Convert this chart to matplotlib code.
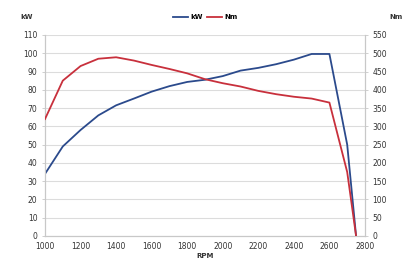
import matplotlib
matplotlib.use("Agg")
import matplotlib.pyplot as plt

rpm = [1000, 1100, 1200, 1300, 1400, 1500, 1600, 1700, 1800, 1900, 2000,
       2100, 2200, 2300, 2400, 2500, 2600, 2700, 2750]
kw = [34, 49, 58, 66, 71.5, 75.2, 79, 82, 84.3, 85.5, 87.5,
      90.5, 92, 94, 96.5, 99.6, 99.6, 50, 0]
nm = [320, 425, 465, 485, 489, 480, 468, 457, 445, 429, 418,
      409, 397, 388, 381, 376, 365, 175, 0]

x_ticks = [1000, 1200, 1400, 1600, 1800, 2000, 2200, 2400, 2600, 2800]
kw_ticks = list(range(0, 111, 10))
nm_ticks = list(range(0, 551, 50))

blue = "#2b4a8c"
red = "#c8303c"
grid_c = "#dcdcdc"
txt_c = "#333333"

fig = plt.figure(figsize=(4.11, 2.61), dpi=100)
ax = fig.add_axes([0.1095, 0.0958, 0.7785, 0.7702])
ax2 = ax.twinx()

ax.plot(rpm, kw, color=blue, lw=1.3, label="kW", zorder=3)
ax2.plot(rpm, nm, color=red, lw=1.3, label="Nm", zorder=3)

ax.set_xlim(1000, 2800)
ax.set_ylim(0, 110)
ax2.set_ylim(0, 550)
ax.set_xticks(x_ticks)
ax.set_yticks(kw_ticks)
ax2.set_yticks(nm_ticks)

ax.grid(axis="y", color=grid_c, lw=0.8)
ax.set_axisbelow(True)

for a in (ax, ax2):
    a.spines["top"].set_visible(False)
    a.spines["left"].set_color("#c8c8c8")
    a.spines["right"].set_color("#c8c8c8")
    a.spines["bottom"].set_color("#c8c8c8")
    a.tick_params(labelsize=5.5, colors=txt_c, length=2, width=0.6)
    a.tick_params(color="#c8c8c8")

ax.tick_params(axis="x", length=0, pad=4)
ax.set_xlabel("RPM", fontsize=5, fontweight="bold", color=txt_c, labelpad=2)

fig.text(20 / 411, 1 - 17 / 261, "kW", fontsize=5, fontweight="bold",
         color=txt_c, ha="left", va="center")
fig.text(396 / 411, 1 - 17 / 261, "Nm", fontsize=5, fontweight="bold",
         color=txt_c, ha="center", va="center")

h1, l1 = ax.get_legend_handles_labels()
h2, l2 = ax2.get_legend_handles_labels()
fig.legend(h1 + h2, l1 + l2, loc="center", bbox_to_anchor=(205 / 411, 1 - 17 / 261),
           ncol=2, frameon=False, handlelength=2.2, columnspacing=0.6,
           handletextpad=0.3, prop={"weight": "bold", "size": 5})

fig.savefig("out.png", dpi=100)
